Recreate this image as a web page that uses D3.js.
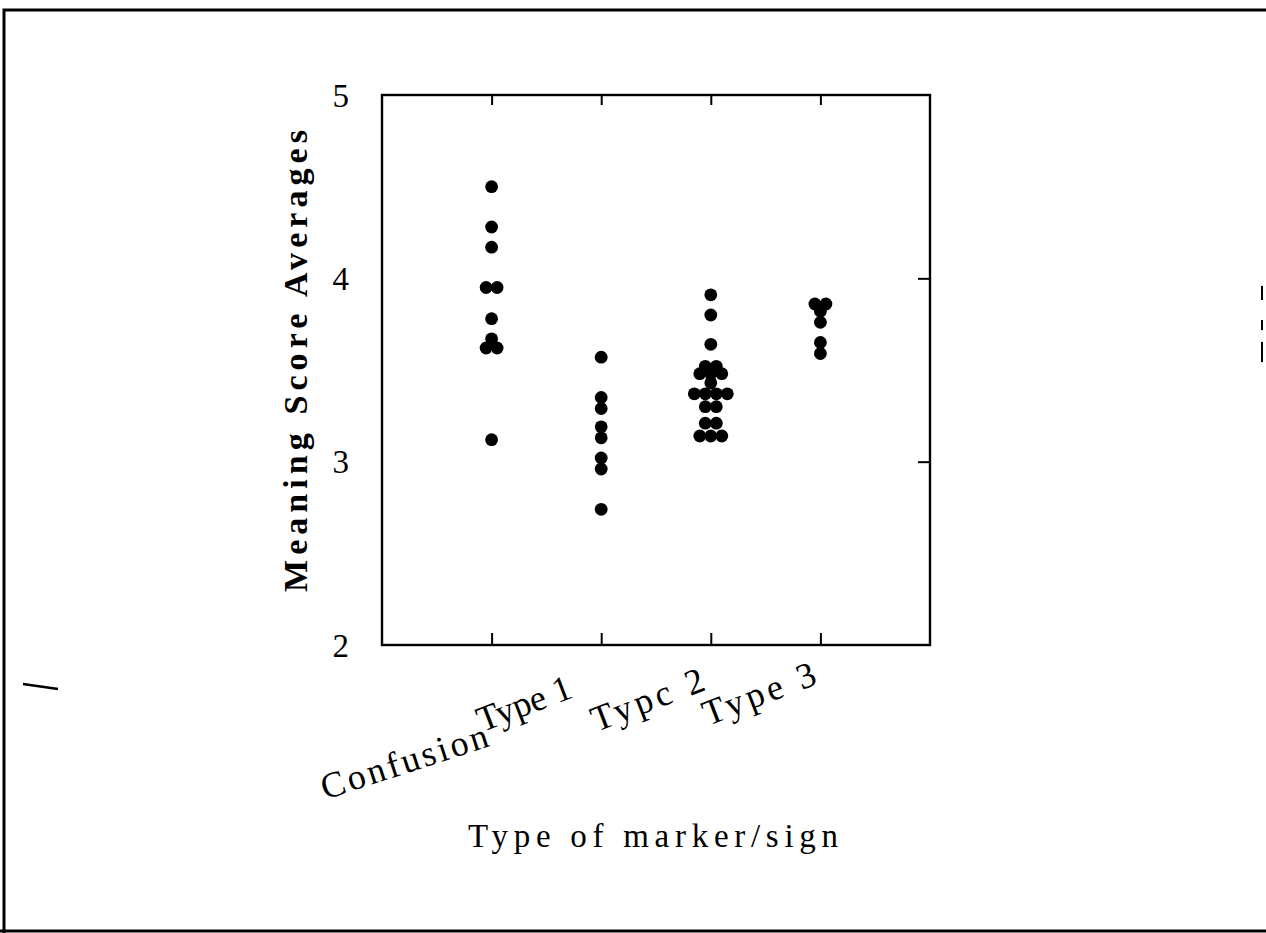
<!DOCTYPE html>
<html>
<head>
<meta charset="utf-8">
<script src="https://cdn.jsdelivr.net/npm/d3@7"></script>
<style>
  html, body { margin: 0; padding: 0; background: #fff; }
  svg { display: block; }
  text { font-family: "Liberation Serif", "DejaVu Serif", serif; fill: #000; }
</style>
</head>
<body>
<svg id="chart" width="1266" height="933"></svg>
<script>
// Category names along the x axis (printed labels, including the typo in the source)
const categories = ["Confusion", "Type 1", "Type 2", "Type 3"];
const categoryLabels = ["Confusion", "Type 1", "Typc 2", "Type 3"];

// Meaning score averages per marker/sign type (tied values are drawn side by side)
const confusionScores = [4.50, 4.28, 4.17, 3.95, 3.95, 3.78, 3.67, 3.62, 3.62, 3.12];
const type1Scores = [3.57, 3.35, 3.29, 3.19, 3.13, 3.02, 2.96, 2.74];
const type2Scores = [3.91, 3.80, 3.64, 3.52, 3.52, 3.48, 3.48, 3.48, 3.43,
                     3.37, 3.37, 3.37, 3.37, 3.30, 3.30, 3.21, 3.21, 3.14, 3.14, 3.14];
const type3Scores = [3.86, 3.86, 3.82, 3.76, 3.65, 3.59];

// Axis ticks
const yTicks = [2, 3, 4, 5];

const seriesByCategory = [confusionScores, type1Scores, type2Scores, type3Scores];

const svg = d3.select("#chart");
svg.append("rect").attr("width", 1266).attr("height", 933).attr("fill", "#fff");

// Plot frame
const frame = { left: 382, right: 930, top: 95, bottom: 645 };

const x = d3.scaleLinear().domain([0, categories.length + 1]).range([frame.left, frame.right]);
const y = d3.scaleLinear().domain([2, 5]).range([frame.bottom, frame.top]);

// Page border
const border = d3.path();
border.moveTo(4, 933);
border.lineTo(4, 10);
border.lineTo(1266, 10);
svg.append("path").attr("d", border.toString())
  .attr("fill", "none").attr("stroke", "#000").attr("stroke-width", 3);
svg.append("line").attr("x1", 0).attr("x2", 1266).attr("y1", 931).attr("y2", 931)
  .attr("stroke", "#000").attr("stroke-width", 3);
[[286, 300], [320, 330], [342, 362]].forEach(([a, b]) => {
  svg.append("line").attr("x1", 1262).attr("x2", 1262).attr("y1", a).attr("y2", b)
    .attr("stroke", "#000").attr("stroke-width", 2);
});
// stray stroke at the left edge
svg.append("line").attr("x1", 23).attr("x2", 58).attr("y1", 684).attr("y2", 689)
  .attr("stroke", "#000").attr("stroke-width", 2.5);

// Frame
svg.append("rect")
  .attr("x", frame.left).attr("y", frame.top)
  .attr("width", frame.right - frame.left).attr("height", frame.bottom - frame.top)
  .attr("fill", "none").attr("stroke", "#000").attr("stroke-width", 2.4);

const catPos = categories.map((c, i) => i + 1);

// Inward ticks on bottom and top edges
const bottomAxis = d3.axisBottom(x).tickValues(catPos).tickSize(-12).tickFormat("");
const gB = svg.append("g").attr("transform", `translate(0,${frame.bottom})`).call(bottomAxis);
const topAxis = d3.axisTop(x).tickValues(catPos).tickSize(-10).tickFormat("");
const gT = svg.append("g").attr("transform", `translate(0,${frame.top})`).call(topAxis);
// Inward ticks on the right edge
const rightAxis = d3.axisRight(y).tickValues([3, 4]).tickSize(-12).tickFormat("");
const gR = svg.append("g").attr("transform", `translate(${frame.right},0)`).call(rightAxis);
// Left axis provides the value labels only
const leftAxis = d3.axisLeft(y).tickValues(yTicks).tickSize(0).tickPadding(33).tickFormat(d3.format("d"));
const gL = svg.append("g").attr("transform", `translate(${frame.left},0)`).call(leftAxis);

[gB, gT, gR, gL].forEach(g => {
  g.select(".domain").remove();
  g.selectAll("line").attr("stroke", "#000").attr("stroke-width", 2);
});
gL.selectAll("text")
  .style("font-family", "'Liberation Serif', serif")
  .style("font-size", "33px")
  .attr("dy", "0.34em");

// Y title
svg.append("text")
  .attr("transform", `translate(307,361) rotate(-90)`)
  .attr("text-anchor", "middle")
  .attr("textLength", 462)
  .attr("lengthAdjust", "spacing")
  .style("font-size", "34px")
  .style("font-weight", "bold")
  .text("Meaning Score Averages");

// Slanted category labels, anchored at their right end
const labelAnchors = [
  { dx: 2, y: 745, spacing: 3, angle: -18 },
  { dx: -27, y: 697, spacing: 0, angle: -21 },
  { dx: 0, y: 688, spacing: 4, angle: -21 },
  { dx: 2, y: 682, spacing: 4, angle: -21 }
];
categoryLabels.forEach((lab, i) => {
  const a = labelAnchors[i];
  svg.append("text")
    .attr("transform", `translate(${x(i + 1) + a.dx},${a.y}) rotate(${a.angle})`)
    .attr("text-anchor", "end")
    .style("font-size", "36px")
    .style("letter-spacing", `${a.spacing}px`)
    .text(lab);
});

// X title
svg.append("text")
  .attr("x", 653).attr("y", 847)
  .attr("text-anchor", "middle")
  .attr("textLength", 370)
  .attr("lengthAdjust", "spacing")
  .style("font-size", "33px")
  .text("Type of marker/sign");

// Dots: tied values within a category are spread horizontally
const dotSpacing = 11;
const points = [];
seriesByCategory.forEach((scores, ci) => {
  const groups = d3.group(scores, v => v);
  groups.forEach((vals, v) => {
    vals.forEach((_, k) => {
      points.push({ cat: ci + 1, value: v, offset: (k - (vals.length - 1) / 2) * dotSpacing });
    });
  });
});

svg.append("g").selectAll("circle")
  .data(points)
  .join("circle")
  .attr("cx", d => x(d.cat) + d.offset)
  .attr("cy", d => y(d.value))
  .attr("r", 6.4)
  .attr("fill", "#000");
</script>
</body>
</html>
